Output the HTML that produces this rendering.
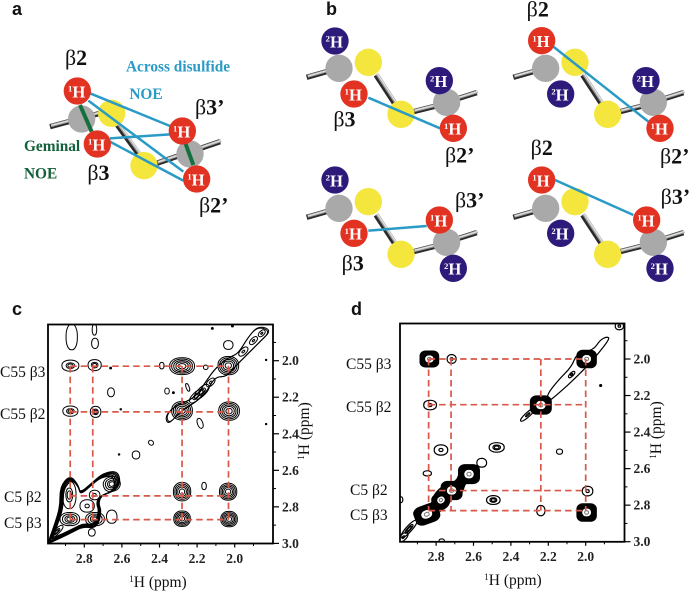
<!DOCTYPE html>
<html lang="en">
<head>
<meta charset="utf-8">
<title>Disulfide NOE figure</title>
<style>
html,body{margin:0;padding:0;background:#fff;width:691px;height:592px;overflow:hidden}
svg{display:block}
text{font-family:"Liberation Serif",serif}
.panel{font-family:"Liberation Sans",sans-serif;font-weight:bold;font-size:18px;fill:#111}
</style>
</head>
<body>
<svg id="fig" xmlns="http://www.w3.org/2000/svg" width="691" height="592" viewBox="0 0 691 592">
<rect width="691" height="592" fill="#fff"/>
<text class="panel" x="12" y="15">a</text>
<text class="panel" x="326" y="15">b</text>
<text class="panel" x="12" y="315">c</text>
<text class="panel" x="351" y="315">d</text>
<defs>
<clipPath id="clip-c"><rect x="48" y="324.5" width="225" height="219"/></clipPath>
<clipPath id="clip-d"><rect x="400" y="323.5" width="224.5" height="218.5"/></clipPath>
</defs>
</svg>
<script>
/* ---------- Spectrum data (ppm) ---------- */
const xTickValues = [2.8, 2.6, 2.4, 2.2, 2.0];
const yTickValues = [2.0, 2.2, 2.4, 2.6, 2.8, 3.0];
const minorTickValues = [1.9, 2.1, 2.3, 2.5, 2.7, 2.9];

const cPeakX = [2.874,2.745,2.28,2.034,2.874,2.74,2.28,2.03,2.28,2.035,2.28,2.03,
  2.128,2.175,2.205,1.954,1.9,1.856,
  2.654,2.745,2.785,2.88,2.877,2.743,2.947,
  2.658,2.36,2.326,2.25,2.184,2.445,2.525,2.615,2.163,2.388,2.154,2.66,2.606,2.743,2.867,2.746,2.034,2.119,2.012,1.833,1.833,2.654,2.76];
const cPeakY = [2.027,2.024,2.03,2.027,2.276,2.28,2.274,2.276,2.717,2.717,2.865,2.867,
  2.119,2.17,2.195,1.95,1.89,1.85,
  2.675,2.735,2.795,2.735,2.867,2.867,2.936,
  2.173,2.166,2.175,2.146,2.343,2.449,2.516,2.513,2.686,2.027,2.036,2.04,2.266,1.905,1.87,1.83,1.914,1.823,1.81,1.996,2.347,2.854,2.94];
const cPeakWidthX = [.045,.035,.066,.055,.04,.028,.055,.055,.046,.046,.044,.044,
  .028,.05,.045,.03,.026,.022,
  .045,.028,.038,.036,.052,.05,.045,
  .018,.012,.005,.008,.014,.014,.02,.004,.012,.012,.012,.005,.004,.018,.03,.012,.025,.005,.005,.003,.003,.028,.018];
const cPeakWidthY = [.03,.03,.046,.05,.028,.03,.05,.05,.05,.046,.042,.042,
  .016,.022,.02,.016,.014,.013,
  .04,.026,.034,.075,.036,.036,.014,
  .024,.016,.005,.022,.028,.012,.022,.004,.02,.018,.012,.005,.004,.028,.07,.03,.024,.005,.005,.003,.003,.036,.02];
const cPeakTilt = [0,0,0,0,0,0,0,0,0,0,0,0,
  -45,-45,-45,-45,-45,-45,
  -20,0,0,0,0,0,-45,
  0,0,0,-20,-20,40,0,0,0,0,0,0,0,0,0,0,0,0,0,0,0,0,0];
const cPeakLevels = [3,3,5,5,3,3,5,5,5,5,5,5,
  2,3,3,2,2,2,
  4,2,2,3,4,4,3,
  1,1,1,1,1,1,1,1,1,1,1,1,1,1,1,1,1,1,1,1,1,1,1];

const cBlobX = [2.991,2.956,2.929,2.929,2.876,2.832,2.823,2.752,2.699,2.628,2.607,2.628,2.708,2.725,2.708,2.734,2.805,2.858,2.929,2.991];
const cBlobY = [2.991,2.890,2.799,2.690,2.626,2.680,2.726,2.662,2.616,2.602,2.653,2.708,2.735,2.781,2.826,2.918,2.908,2.936,2.972,3.000];
const cRidgeX = [2.371,2.326,2.211,2.149,2.096,2.025,1.980,1.927,1.874,1.803,1.865,1.936,1.998,2.043,2.105,2.149,2.202,2.291,2.353];
const cRidgeY = [2.307,2.252,2.206,2.106,2.033,1.978,1.960,1.869,1.808,1.832,1.896,1.969,2.033,2.088,2.088,2.170,2.224,2.279,2.352];

const dPeakX = [2.836,2.717,1.995,2.832,2.24,2.774,2.476,2.14,2.847,2.624,2.556,2.717,2.774,2.494,1.99,2.85,2.24,1.995,
  2.075,2.31,2.945,2.975,1.82,2.99,2.77,1.92];
const dPeakY = [2.0,2.0,2.0,2.252,2.252,2.498,2.484,2.507,2.626,2.63,2.568,2.72,2.772,2.772,2.723,2.85,2.83,2.84,
  2.085,2.305,2.93,2.975,1.82,2.77,2.995,2.145];
const dPeakWidthX = [.05,.024,.052,.034,.056,.036,.04,.016,.022,.056,.026,.056,.045,.036,.028,.066,.022,.052,
  .022,.05,.06,.03,.022,.012,.014,.005];
const dPeakWidthY = [.044,.024,.048,.026,.05,.028,.026,.014,.014,.052,.024,.05,.04,.024,.026,.05,.028,.048,
  .009,.012,.016,.016,.02,.016,.01,.005];
const dPeakTilt = [0,0,0,0,0,0,0,0,0,0,0,0,-30,0,0,-20,0,0,
  -45,-42,-48,-45,0,0,0,0];
const dPeakLevels = [7,2,7,2,7,2,3,1,1,7,1,7,6,3,2,7,1,7,
  2,2,3,2,2,1,1,1];

const dRidgeX = [2.048,1.959,1.923,1.888,1.870,1.932,1.986,2.075,2.155,2.200,2.209,2.146,2.075];
const dRidgeY = [1.969,1.951,1.896,1.878,1.887,1.969,2.033,2.124,2.197,2.234,2.197,2.115,2.042];
const dChainX = [2.904,2.895,2.824,2.815,2.761,2.690,2.672,2.627,2.600,2.625,2.645,2.663,2.725,2.734,2.788,2.797,2.868];
const dChainY = [2.863,2.818,2.799,2.745,2.690,2.672,2.608,2.585,2.625,2.672,2.681,2.745,2.763,2.808,2.836,2.881,2.909];

const cDashX = [2.875,2.755,2.28,2.033];
const cDashY = [2.03,2.28,2.74,2.87];
const dDashX = [2.84,2.72,2.24,2.0];
const dDashY = [2.0,2.25,2.72,2.83];

const cRowLabels = ["C55 β3","C55 β2","C5 β2","C5 β3"];
const dRowLabels = ["C55 β3","C55 β2","C5 β2","C5 β3"];

/* ---------- helpers ---------- */
const NS = 'http://www.w3.org/2000/svg';
const fig = document.getElementById('fig');
function svgEl(parent, tag, attrs){
  const el = document.createElementNS(NS, tag);
  for(const k in attrs){ el.setAttribute(k, attrs[k]); }
  parent.appendChild(el);
  return el;
}
function group(parent, name, attrs){
  const g = svgEl(parent, 'g', attrs || {});
  
  
  return g;
}
function tsp(parent, txt, attrs){
  const t = svgEl(parent, 'tspan', attrs || {});
  t.textContent = txt;
  return t;
}

/* ---------- molecule diagrams (drawn in 3x units) ---------- */
function stick(p, a){
  const dark = svgEl(p,'line',{x1:a[0],y1:a[1],x2:a[2],y2:a[3],stroke:'#2a2a2a','stroke-width':16});
  
  
  const mid = svgEl(p,'line',{x1:a[0]+3,y1:a[1]-3,x2:a[2]+3,y2:a[3]-3,stroke:'#9a9a9a','stroke-width':9});
  
  
  const lite = svgEl(p,'line',{x1:a[0]+4,y1:a[1]-4,x2:a[2]+4,y2:a[3]-4,stroke:'#e2e2e2','stroke-width':4});
  
  
}
function ball(p, c, fill, name){
  const e = svgEl(p,'circle',{cx:c[0],cy:c[1],r:c[2]||41,fill:fill});
  
  
}
function nucleus(p, c, fill, iso, name){
  const g = group(p, name);
  svgEl(g,'circle',{cx:c[0],cy:c[1],r:41,fill:fill});
  const t = svgEl(g,'text',{x:c[0]-28,y:c[1]+19,fill:'#fff','font-weight':'bold','font-size':50});
  tsp(t, iso, {'font-size':26,dy:-17});
  tsp(t, 'H', {dy:17});
}
function betaLabel(p, l){
  const t = svgEl(p,'text',{x:l[0],y:l[1],'font-size':66,fill:'#111'});
  
  
  tsp(t,'β');
  tsp(t,l[2],{'font-weight':'bold'});
}
function scene(parent, name, s){
  const g = group(parent, name);
  s.sticks.forEach(a=>stick(g,a));
  s.gray.forEach(c=>ball(g,c,'#a9a9a9','carbon-atom'));
  s.yellow.forEach(c=>ball(g,c,'#f4e63c','sulfur-atom'));
  (s.green||[]).forEach(a=>{
    const l = svgEl(g,'line',{x1:a[0],y1:a[1],x2:a[2],y2:a[3],stroke:'#14703c','stroke-width':12});
    
    
  });
  s.blue.forEach(a=>{
    const l = svgEl(g,'line',{x1:a[0],y1:a[1],x2:a[2],y2:a[3],stroke:'#2a9ac6','stroke-width':7.5});
    
    
  });
  s.deut.forEach(c=>nucleus(g,c,'#2e1a7a','2','deuterium-atom'));
  s.red.forEach(c=>nucleus(g,c,'#e23222','1','proton-atom'));
  s.labels.forEach(l=>betaLabel(g,l));
}
const pa = group(fig,'panel-a-diagram',{transform:'scale(0.33333)'});
scene(pa,'all-proton-disulfide',{
  sticks:[[150,380,300,340],[345,365,425,475],[470,490,660,425]],
  gray:[[245,357],[570,462]],
  yellow:[[335,340],[432,497]],
  green:[[240,315,275,395],[557,432,580,495]],
  blue:[[270,280,510,378],[265,302,550,515],[330,415,510,403],[330,425,550,542]],
  deut:[],
  red:[[232,273],[292,432],[547,393],[590,537]],
  labels:[[195,195,'2'],[585,343,'3’'],[262,540,'3'],[597,638,'2’']]
});
function note(p, x, y, txt, fill, name){
  const t = svgEl(p,'text',{x:x,y:y,fill:fill,'font-weight':'bold','font-size':46});
  t.textContent = txt;
  
  
}
note(pa,378,215,'Across disulfide','#2a9ac6','across-disulfide-label');
note(pa,388,297,'NOE','#2a9ac6','across-noe-label');
note(pa,72,453,'Geminal','#14603a','geminal-label');
note(pa,72,535,'NOE','#14603a','geminal-noe-label');

const pb = group(fig,'panel-b-diagrams',{transform:'translate(300,0) scale(0.33333)'});
function sticksAt(dx,dy){
  return [[20+dx,232+dy,90+dx,212+dy],[228+dx,225+dy,285+dx,312+dy],[340+dx,335+dy,420+dx,315+dy],[470+dx,297+dy,530+dx,278+dy]];
}
scene(pb,'beta3-beta2-prime',{
  sticks:sticksAt(0,0),gray:[[117,205],[440,307]],yellow:[[205,187],[303,343]],
  blue:[[205,293,420,385]],deut:[[105,123],[418,242]],red:[[162,282],[460,385]],
  labels:[[100,380,'3'],[435,487,'2’']]
});
scene(pb,'beta2-beta2-prime',{
  sticks:sticksAt(620,0),gray:[[737,205],[1060,307]],yellow:[[825,187],[923,343]],
  blue:[[760,140,1045,365]],deut:[[782,282],[1038,242]],red:[[725,122],[1080,385]],
  labels:[[680,50,'2'],[1080,490,'2’']]
});
scene(pb,'beta3-beta3-prime',{
  sticks:sticksAt(0,420),gray:[[117,625],[440,727]],yellow:[[205,605],[303,763]],
  blue:[[205,692,380,678]],deut:[[105,540],[460,805]],red:[[162,700],[418,660]],
  labels:[[125,812,'3'],[465,622,'3’']]
});
scene(pb,'beta2-beta3-prime',{
  sticks:sticksAt(620,420),gray:[[737,625],[1060,727]],yellow:[[825,605],[923,763]],
  blue:[[765,540,1000,645]],deut:[[782,700],[1080,805]],red:[[725,540],[1040,660]],
  labels:[[692,465,'2'],[1082,612,'3’']]
});

/* ---------- spectra ---------- */
function spectrum(cfg){
  const root = group(fig, cfg.name);
  const sx = p => cfg.x20 - (p - 2.0) * cfg.kx;
  const sy = p => cfg.y20 + (p - 2.0) * cfg.ky;
  const L = cfg.box[0], T = cfg.box[1], R = cfg.box[2], B = cfg.box[3];

  const marks = group(root, 'contour-peaks', {'clip-path':'url(#'+cfg.clip+')'});

  /* free-form contour outlines, nested about their centroid */
  cfg.outlines.forEach(o=>{
    const pts = o.x.map((v,i)=>[sx(v), sy(o.y[i])]);
    const mx = pts.reduce((s,p)=>s+p[0],0)/pts.length;
    const my = pts.reduce((s,p)=>s+p[1],0)/pts.length;
    o.scales.forEach(sc=>{
      const q = pts.map(p=>[mx+(p[0]-mx)*sc, my+(p[1]-my)*sc]);
      const n = q.length;
      const mid = (a,b)=>[(a[0]+b[0])/2,(a[1]+b[1])/2];
      const st = mid(q[n-1],q[0]);
      let d = 'M'+st[0]+' '+st[1];
      for(let i=0;i<n;i++){
        const m = mid(q[i],q[(i+1)%n]);
        d += 'Q'+q[i][0]+' '+q[i][1]+' '+m[0]+' '+m[1];
      }
      const path = svgEl(marks,'path',{d:d+'Z',fill:o.fill||'none',stroke:'#000','stroke-width':o.sw||cfg.sw});
      
      
    });
  });

  function contour(cx, cy, hw, hh, round, fill, stroke, sw, tilt){
    const e = svgEl(marks,'rect',{
      x:cx-hw, y:cy-hh, width:2*hw, height:2*hh,
      rx:hw*round, ry:hh*round,
      fill:fill, stroke:stroke,'stroke-width':sw,
      transform:'rotate('+tilt+' '+cx+' '+cy+')'
    });
    
    
  }

  cfg.px.forEach((p,i)=>{
    const lv = cfg.lv[i];
    const cx = sx(p), cy = sy(cfg.py[i]);
    const ow = cfg.wx[i]*cfg.kx, oh = cfg.wy[i]*cfg.ky;
    if(lv >= cfg.solidLevel){
      contour(cx,cy,ow,oh,cfg.round,'#000','#000',1,cfg.tilt[i]);
      contour(cx,cy,ow*0.45,oh*0.45,0.9,'#fff','none',0,cfg.tilt[i]);
      contour(cx,cy,ow*0.2,oh*0.2,0.9,'none','#777',1,cfg.tilt[i]);
      return;
    }
    for(let k=lv;k>=1;k--){
      let f;
      if(k===lv){ f = 1; }
      else if(k===1){ f = 0.3; }
      else { f = 0.5+0.5*(k-2)/(lv-2); }
      contour(cx,cy,Math.max(ow*f,0.7),Math.max(oh*f,0.7),0.9,
        (cfg.wx[i]<0.007?'#000':'none'),'#000',cfg.sw,cfg.tilt[i]);
    }
  });

  const dashes = group(root, 'connectivity-dashes');
  const xMin = Math.min(...cfg.dx), xMax = Math.max(...cfg.dx);
  const yMin = Math.min(...cfg.dy), yMax = Math.max(...cfg.dy);
  cfg.dx.forEach(p=>{
    const l = svgEl(dashes,'line',{x1:sx(p),x2:sx(p),y1:sy(yMin),y2:sy(yMax),stroke:'#d8584a','stroke-width':1.7,'stroke-dasharray':'6.5 4'});
    
    
  });
  cfg.dy.forEach(p=>{
    const l = svgEl(dashes,'line',{x1:sx(xMax),x2:sx(xMin),y1:sy(p),y2:sy(p),stroke:'#d8584a','stroke-width':1.7,'stroke-dasharray':'6.5 4'});
    
    
  });

  const frame = svgEl(root,'rect',{x:L,y:T,width:R-L,height:B-T,fill:'none',stroke:'#000','stroke-width':1.8});
  
  

  const axes = group(root,'axes');
  xTickValues.forEach(v=>{
    const t = svgEl(axes,'line',{x1:sx(v),x2:sx(v),y1:B,y2:B+4,stroke:'#000','stroke-width':1.2});
    
    
    const lab = svgEl(axes,'text',{x:sx(v),y:cfg.xLabY,'text-anchor':'middle','font-size':13.5,'font-weight':'bold',fill:'#222'});
    lab.textContent = v.toFixed(1);
    
    
  });
  minorTickValues.forEach(v=>{
    const t = svgEl(axes,'line',{x1:sx(v),x2:sx(v),y1:B,y2:B+2.5,stroke:'#000','stroke-width':1});
    
    
    const r = svgEl(axes,'line',{x1:R,x2:R+3,y1:sy(v),y2:sy(v),stroke:'#000','stroke-width':1});
    
    
  });
  yTickValues.forEach(v=>{
    const t = svgEl(axes,'line',{x1:R,x2:R+6,y1:sy(v),y2:sy(v),stroke:'#000','stroke-width':1.2});
    
    
    const lab = svgEl(axes,'text',{x:R+9,y:sy(v)+4.5,'font-size':13.5,'font-weight':'bold',fill:'#222'});
    lab.textContent = v.toFixed(1);
    
    
  });

  const xt = svgEl(root,'text',{x:cfg.xTitle[0],y:cfg.xTitle[1],'text-anchor':'middle','font-size':15.5,fill:'#111'});
  
  
  tsp(xt,'1',{'font-size':9,dy:-5}); tsp(xt,'H (ppm)',{dy:5});

  const yt = svgEl(root,'text',{x:0,y:0,'text-anchor':'middle','font-size':15.5,fill:'#111',
    transform:'translate('+cfg.yTitle[0]+','+cfg.yTitle[1]+') rotate(-90)'});
  
  
  tsp(yt,'1',{'font-size':9,dy:-5}); tsp(yt,'H (ppm)',{dy:5});

  cfg.rows.forEach((txt,i)=>{
    const t = svgEl(root,'text',{x:cfg.rowX[i],y:cfg.rowY[i],'font-size':15.5,fill:'#111'});
    t.textContent = txt;
    
    
  });
}
spectrum({name:'panel-c-spectrum',clip:'clip-c',x20:234.7,kx:188,y20:360.7,ky:182.7,box:[48,324.5,273,543.5],
  px:cPeakX,py:cPeakY,wx:cPeakWidthX,wy:cPeakWidthY,tilt:cPeakTilt,lv:cPeakLevels,sw:1.0,round:0.9,solidLevel:99,
  outlines:[{x:cBlobX,y:cBlobY,scales:[1,0.97,0.94,0.9,0.86],sw:1.2},{x:cRidgeX,y:cRidgeY,scales:[1,0.98]}],
  dx:cDashX,dy:cDashY,xLabY:563,xTitle:[158,587],yTitle:[309,431],
  rows:cRowLabels,rowX:[0,0,4,4],rowY:[377,419,502,528]});
spectrum({name:'panel-d-spectrum',clip:'clip-d',x20:585.7,kx:187,y20:359,ky:182.7,box:[400,323.5,624.5,541.8],
  px:dPeakX,py:dPeakY,wx:dPeakWidthX,wy:dPeakWidthY,tilt:dPeakTilt,lv:dPeakLevels,sw:1.2,round:0.6,solidLevel:6,
  outlines:[{x:dRidgeX,y:dRidgeY,scales:[1]},{x:dChainX,y:dChainY,scales:[1],fill:'#000'}],
  dx:dDashX,dy:dDashY,xLabY:561,xTitle:[513,585],yTitle:[661,430],
  rows:dRowLabels,rowX:[346,346,350,350],rowY:[369,412,495,520]});
</script>
</body>
</html>
